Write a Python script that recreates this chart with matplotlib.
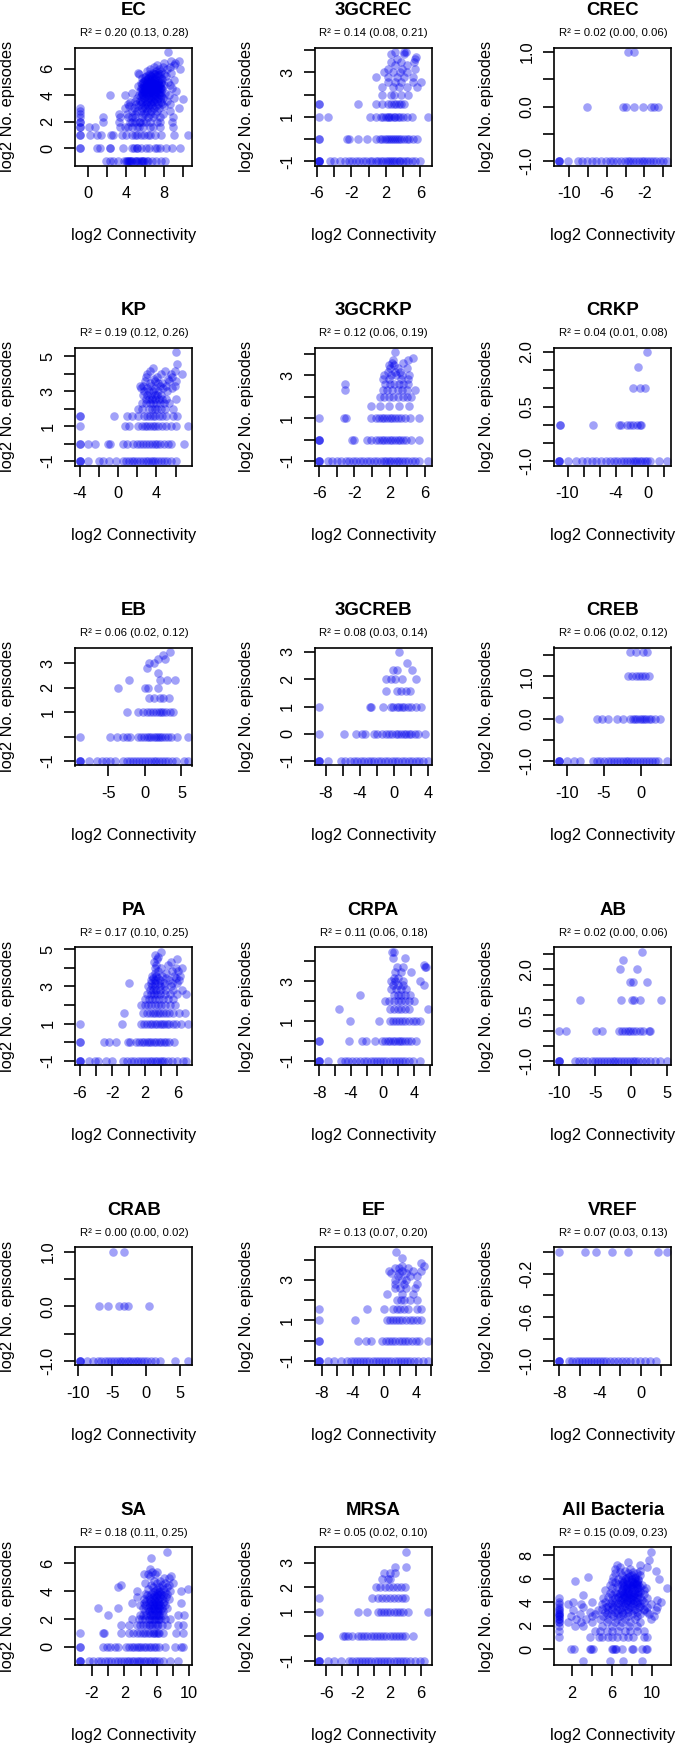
import matplotlib
matplotlib.use('Agg')
import matplotlib.pyplot as plt
import numpy as np

plt.rcParams['font.family'] = ['Liberation Sans', 'DejaVu Sans']

# log2 No. episodes level -> log2 Connectivity values

ec = {
    -1: [1.9, 2.3, 2.6, 3.1, 3.8, 4.0, 4.1, 4.2, 4.3, 4.4, 4.5, 4.6, 4.9, 5.0, 5.1, 5.3, 5.5, 5.6,
         5.8, 5.9, 6.2, 6.3, 6.7, 7.1, 7.6, 8.1],
    0: [-0.9, -0.9, 0.9, 1.2, 2.3, 2.3, 3.7, 4.6, 4.8, 5.1, 5.1, 5.5, 6.1, 6.4, 7.0, 7.2, 7.5, 8.2, 8.8, 9.6],
    1: [-0.9, -0.9, 0.2, 0.9, 1.3, 2.4, 2.6, 3.5, 4.0, 4.6, 4.9, 5.1, 5.5, 5.9, 6.3, 6.5, 7.0, 7.6, 9.0, 10.5],
    1.58: [-0.9, -0.9, 0.1, 0.7, 3.3, 3.9, 4.2, 4.6, 5.1, 5.3, 5.8, 6.5, 6.8, 7.5, 8.9],
    2: [-0.9, -0.9, 1.6, 3.2, 4.4, 4.6, 4.9, 5.3, 5.4, 5.8, 6.1, 6.5, 7.2, 7.5, 8.8],
    2.32: [-0.9, 1.6, 3.3, 4.2, 4.6, 4.9, 5.6, 6.3, 6.8, 7.5, 8.9],
    2.58: [-0.9, 3.2, 4.1, 4.9, 5.8, 6.0, 6.5, 7.0, 7.9],
    2.81: [-0.9, 4.6, 5.1, 5.5, 6.2, 6.6, 7.2, 8.6],
    3: [-0.9, 3.9, 4.8, 5.6, 6.0, 6.4, 6.9, 7.4, 9.5],
    3.17: [4.3, 5.2, 5.9, 6.3, 6.7, 7.1, 8.0],
    3.32: [4.2, 5.0, 5.5, 6.1, 6.6, 7.3, 7.8, 8.6],
    3.46: [4.4, 5.7, 6.2, 6.5, 6.9, 7.6],
    3.58: [4.9, 5.4, 6.0, 6.8, 7.2, 8.3],
    3.70: [5.6, 6.3, 6.6, 7.0, 7.5, 10.0],
    3.81: [5.1, 5.9, 6.4, 6.9, 7.3, 7.9, 9.0],
    3.91: [5.5, 6.1, 6.7, 7.1, 7.6],
    4: [2.3, 3.9, 5.3, 5.8, 6.2, 6.5, 7.0, 7.7, 8.5],
    4.09: [5.6, 6.3, 6.9, 7.4],
    4.17: [4.6, 5.7, 6.0, 6.4, 6.8, 7.2, 8.1],
    4.25: [5.8, 6.5, 7.1, 7.6],
    4.32: [5.4, 5.9, 6.3, 6.6, 7.0, 7.4, 9.2],
    4.39: [6.0, 6.7, 7.2],
    4.46: [5.8, 6.2, 6.5, 6.9, 7.3, 7.8],
    4.52: [5.5, 6.2, 6.9, 7.5],
    4.58: [5.6, 6.0, 6.4, 6.8, 7.1, 7.6, 8.8],
    4.64: [5.9, 6.6, 7.3],
    4.70: [5.2, 6.1, 6.6, 7.0, 7.5],
    4.75: [6.1, 6.8, 7.4],
    4.81: [5.9, 6.3, 6.7, 7.2, 8.0, 8.6],
    4.86: [5.7, 6.5, 7.1],
    4.91: [5.5, 6.4, 6.9, 7.3],
    4.95: [6.2, 6.9, 7.6],
    5: [5.8, 6.2, 6.6, 7.0, 7.7, 8.4],
    5.09: [5.9, 6.6, 7.3],
    5.17: [6.0, 6.5, 6.9, 7.4, 9.0],
    5.25: [6.3, 7.0, 7.8],
    5.32: [5.7, 6.3, 6.8, 7.6],
    5.39: [6.0, 6.7],
    5.46: [6.1, 6.6, 7.1, 8.2],
    5.52: [6.5, 7.3],
    5.58: [5.3, 6.4, 7.0, 7.5, 8.0],
    5.64: [6.9],
    5.70: [5.2, 6.8, 7.3, 8.7],
    5.81: [6.2, 7.1, 7.7],
    6: [6.5, 7.4, 8.3, 9.6],
    6.17: [6.9, 7.9, 8.6],
    6.32: [7.2, 9.0],
    6.46: [8.0, 9.1],
    6.58: [8.7, 9.5],
    7.27: [8.4],
}

gcrec = {
    -1: [-5.75, -5.75, -5.75, -5.75, -4.5, -4.0, -3.3, -2.7, -2.3, -1.9, -1.5, -1.1, -0.7, -0.3, 0.1, 0.4,
         0.8, 1.1, 1.4, 1.7, 2.0, 2.2, 2.5, 2.7, 3.0, 3.2, 3.5, 3.7, 4.0, 4.3, 4.6, 5.0, 5.4, 6.0],
    0: [-5.75, -5.75, -2.5, -2.3, -1.2, -0.2, 0.8, 1.3, 1.6, 1.9, 2.1, 2.4, 2.6, 2.8, 3.1, 3.3, 3.5, 3.8,
        4.1, 4.4, 4.7, 5.2, 5.6],
    1: [-5.75, -4.75, 0.1, 0.8, 1.4, 1.7, 2.0, 2.2, 2.4, 2.6, 2.9, 3.1, 3.4, 3.6, 4.0, 4.4, 5.0, 6.85],
    1.58: [-5.75, -5.75, -1.2, 0.8, 1.5, 2.3, 2.6, 2.9, 3.2, 3.5, 3.8, 4.1],
    2: [1.6, 2.6, 3.0, 3.8, 4.6],
    2.32: [1.6, 2.8, 3.5, 4.5, 5.6],
    2.58: [2.3, 3.1, 3.8, 5.1, 6.1],
    2.81: [0.8, 2.3, 3.3, 4.1, 5.2],
    3: [1.8, 2.8, 3.6, 4.4],
    3.17: [2.3, 3.9, 5.4],
    3.32: [3.1, 4.4],
    3.46: [2.6, 3.8, 5.3],
    3.58: [3.3, 5.4],
    3.70: [5.5],
    3.81: [2.6, 4.1],
    3.91: [3.1, 4.1, 4.3],
}

crec = {
    -1: [-11.1, -11.1, -11.1, -10.1, -9.1, -8.6, -8.1, -7.6, -7.1, -6.6, -6.1, -5.7, -5.3, -4.9, -4.5, -4.1,
         -3.8, -3.5, -3.2, -2.9, -2.6, -2.3, -2.0, -1.7, -1.4, -1.1, -0.8, -0.4, 0.0, 0.4],
    0: [-8.05, -4.3, -4.0, -3.1, -2.2, -1.3, -1.0, -0.6],
    1: [-3.8, -3.1],
}

kp = {
    -1: [-4, -4, -4, -3.1, -2.0, -1.6, -0.9, -0.2, 0.5, 0.8, 1.1, 1.4, 1.7, 2.0, 2.3, 2.6, 2.9, 3.1, 3.4,
         3.6, 3.9, 4.2, 4.5, 4.8, 5.1, 5.5, 6.0],
    0: [-4, -4, -3.1, -2.4, -1.1, -0.8, 0.5, 0.9, 1.6, 2.0, 2.3, 2.6, 2.9, 3.2, 3.5, 3.8, 4.1, 4.4, 4.8,
        5.2, 5.5, 6.9],
    1: [-4, 0.7, 1.1, 2.1, 2.5, 2.8, 3.0, 3.3, 3.6, 3.9, 4.2, 4.6, 5.0, 5.5, 6.0, 7.3],
    1.58: [-4, -4, -0.45, 0.9, 1.4, 2.1, 2.7, 3.0, 3.3, 3.6, 3.9, 4.3, 4.6, 5.0, 5.7, 6.1],
    2: [2.1, 2.5, 3.2, 3.5, 3.8, 4.1, 4.5, 4.9, 5.7],
    2.32: [2.5, 2.9, 3.3, 3.6, 4.0, 4.4, 4.8, 5.3],
    2.58: [2.9, 3.2, 3.5, 3.8, 4.3, 4.6, 5.0, 6.0],
    2.81: [2.6, 3.0, 3.4, 3.8, 4.1, 4.5],
    3: [2.7, 3.2, 3.6, 4.2, 5.1],
    3.17: [2.4, 3.0, 3.9, 4.7, 5.6],
    3.32: [2.3, 2.6, 3.4, 4.4, 5.0, 5.9],
    3.46: [3.3, 4.2, 4.6],
    3.58: [2.8, 3.9, 5.3, 6.0],
    3.70: [3.7, 5.2],
    3.81: [2.9, 4.1, 5.6],
    4: [3.0, 4.5, 5.5, 6.7],
    4.17: [3.3, 4.9, 5.9],
    4.32: [3.6],
    4.58: [6.1],
    5.25: [6.0],
}

gcrkp = {
    -1: [-6, -6, -6, -5.0, -4.5, -4.0, -3.5, -3.0, -2.6, -2.2, -1.8, -1.4, -1.0, -0.6, -0.2, 0.2, 0.6, 1.0,
         1.3, 1.6, 1.9, 2.2, 2.5, 2.8, 3.1, 3.4, 3.7, 4.1, 4.5, 4.9, 5.3, 6.3],
    0: [-6, -6, -6, -2.3, -2.0, -0.6, -0.1, 0.4, 0.8, 1.1, 1.4, 1.7, 2.0, 2.3, 2.6, 2.9, 3.2, 3.5, 3.9, 4.4, 5.3],
    1: [-6, -3.15, -3.0, -0.1, 0.4, 0.8, 1.1, 1.4, 1.7, 2.0, 2.3, 2.6, 2.9, 3.3, 3.7, 4.3, 5.3],
    1.58: [-0.1, 0.9, 1.9, 3.1, 4.2],
    2: [0.9, 1.4, 1.9, 2.4, 2.9, 3.5, 4.0, 4.4],
    2.32: [-3.05, 1.2, 1.7, 2.3, 2.9, 3.4, 4.0, 4.9],
    2.58: [-3.05, 1.5, 2.0, 2.5, 3.0, 3.5, 4.1],
    2.81: [1.2, 1.9, 3.3, 4.1],
    3: [1.4, 2.1, 2.7, 3.4, 4.2],
    3.17: [1.8, 2.6, 3.2],
    3.32: [2.0, 2.9, 4.0],
    3.46: [1.9, 2.5],
    3.58: [2.3, 3.5],
    3.70: [2.4, 4.1],
    3.81: [4.6],
    4.09: [2.6],
}

crkp = {
    -1: [-11.1, -11.1, -11.1, -10.0, -9.0, -8.2, -7.6, -7.0, -6.4, -5.8, -5.2, -4.7, -4.2, -3.8, -3.4, -3.0,
         -2.6, -2.2, -1.9, -1.6, -1.3, -1.0, -0.7, -0.4, -0.1, 0.3, 1.4, 2.4],
    0: [-11.0, -11.0, -6.85, -3.65, -3.4, -2.6, -2.2, -1.8, -1.4, -1.0, -0.8],
    1: [-1.8, -1.0, -0.35],
    1.58: [-1.25],
    2: [-0.1],
}

eb = {
    -1: [-8.9, -8.9, -8.9, -7.7, -6.5, -5.9, -5.3, -4.7, -4.1, -3.0, -2.5, -2.0, -1.6, -1.2, -0.8, -0.4, 0.0,
         0.4, 0.8, 1.2, 1.5, 1.9, 2.3, 2.7, 3.2, 3.7, 4.2, 5.3, 5.9],
    0: [-8.9, -4.7, -3.8, -3.0, -2.4, -2.1, -0.9, -0.5, -0.1, 0.3, 0.6, 0.9, 1.2, 1.5, 1.8, 2.1, 2.4, 2.7,
        3.1, 3.6, 4.4, 5.9],
    1: [-2.4, -0.9, -0.3, 0.3, 0.7, 1.1, 1.5, 1.9, 2.2, 2.5, 2.9, 3.4, 3.9],
    1.58: [0.6, 1.2, 2.1, 2.5, 3.3],
    2: [-3.7, 0.0, 0.4, 1.8],
    2.32: [-2.2, 2.1, 3.0, 4.1],
    2.58: [1.8],
    2.81: [0.3],
    3: [0.6, 1.2],
    3.17: [1.8, 2.7],
    3.32: [2.5],
    3.46: [3.5],
}

gcreb = {
    -1: [-8.74, -8.74, -8.74, -7.7, -6.2, -5.7, -5.2, -4.7, -4.3, -3.9, -3.5, -3.1, -2.7, -2.3, -1.9, -1.5,
         -1.1, -0.7, -0.3, 0.1, 0.5, 0.9, 1.3, 1.7, 2.1, 2.5, 2.9, 3.4, 3.9],
    0: [-8.74, -5.85, -4.45, -3.7, -3.4, -2.4, -2.0, -1.4, -1.0, -0.6, -0.2, 0.2, 0.5, 0.8, 1.1, 1.4, 1.7,
        2.0, 2.4, 2.8, 3.6],
    1: [-8.74, -2.85, -2.7, -1.25, -0.4, -0.1, 0.3, 0.6, 0.9, 1.2, 1.6, 2.0, 2.6, 3.1],
    1.58: [-0.9, 0.35, 0.85, 1.35, 1.9],
    2: [-0.9, -0.4, 0.1, 0.9, 2.5],
    2.32: [-0.15, 0.35, 2.1],
    2.58: [1.5],
    3: [0.6],
}

creb = {
    -1: [-11.1, -11.1, -11.1, -10.05, -9.1, -8.2, -6.5, -6.0, -5.5, -5.0, -4.5, -4.1, -3.7, -3.3, -2.9,
         -2.5, -2.1, -1.7, -1.3, -0.9, -0.5, -0.1, 0.3, 0.7, 1.1, 1.5, 1.9, 2.3, 3.5],
    0: [-11.0, -5.9, -5.3, -4.4, -3.3, -2.4, -1.5, -1.1, -0.8, -0.5, -0.2, 0.1, 0.4, 0.7, 1.0, 1.4, 1.9, 2.6],
    1: [-1.8, -1.2, -0.7, -0.3, 0.1, 0.5, 1.1],
    1.58: [-1.5, -0.65, 0.25, 0.8],
}

pa = {
    -1: [-6, -6, -6, -4.9, -4.1, -3.8, -2.8, -2.0, -0.7, -0.2, 0.3, 0.7, 1.1, 1.5, 1.9, 2.3, 2.6, 2.9, 3.2,
         3.5, 3.8, 4.1, 4.4, 4.8, 5.3, 5.9, 6.7, 7.0],
    0: [-6, -6, -3.0, -2.4, -1.5, -0.1, 0.2, 0.9, 1.3, 1.6, 1.9, 2.2, 2.5, 2.8, 3.1, 3.4, 3.7, 4.0, 4.3,
        4.6, 5.0, 5.6],
    1: [-6, -0.75, 1.5, 1.9, 2.3, 2.6, 2.9, 3.2, 3.5, 3.8, 4.1, 4.4, 4.7, 5.0, 5.4, 5.8, 6.4, 7.3],
    1.58: [-0.55, 1.8, 2.2, 2.6, 3.0, 3.3, 3.6, 3.9, 4.2, 4.6, 5.0, 5.5, 6.2, 6.9],
    2: [1.5, 2.0, 2.4, 2.8, 3.2, 3.6, 4.0, 4.5, 5.1, 5.7],
    2.32: [2.0, 2.5, 2.9, 3.3, 3.7, 4.2, 4.8, 5.4],
    2.58: [2.2, 2.7, 3.1, 3.5, 3.9, 4.5, 5.1, 6.0, 7.0],
    2.81: [2.6, 3.0, 3.4, 3.9, 4.5, 5.5, 6.6],
    3: [2.4, 2.9, 3.3, 3.8, 4.4, 5.2],
    3.17: [0.0, 2.7, 3.2, 3.7, 4.3, 5.3, 6.0],
    3.32: [2.8, 3.3, 3.9, 5.0, 6.2],
    3.46: [3.0, 3.6, 4.6, 5.8],
    3.58: [2.9, 3.4, 4.1, 5.6, 6.3],
    3.70: [3.2, 4.6],
    3.81: [3.6, 5.3, 6.1],
    4: [3.3, 4.0, 5.8, 6.5],
    4.17: [3.4, 4.8],
    4.32: [3.1, 5.2],
    4.46: [3.5, 6.0],
    4.58: [3.6],
    4.70: [3.3],
    4.86: [4.0],
}

crpa = {
    -1: [-8, -8, -8, -6.9, -5.3, -4.8, -4.3, -3.8, -3.3, -2.8, -2.3, -1.9, -1.5, -1.1, -0.7, -0.3, 0.1, 0.5,
         0.9, 1.3, 1.7, 2.1, 2.5, 2.9, 3.4, 3.9, 4.8],
    0: [-8, -8, -4.2, -2.6, -2.1, -0.9, -0.1, 0.3, 0.7, 1.0, 1.3, 1.6, 1.9, 2.2, 2.5, 2.8, 3.2, 3.6, 4.2],
    1: [-4.1, -0.4, 1.0, 1.3, 1.7, 2.1, 2.5, 2.8, 3.3, 3.8, 4.2, 4.8],
    1.58: [-5.5, 1.0, 1.5, 2.0, 2.4, 2.9, 3.4, 5.7],
    2: [0.3, 0.8, 1.4, 1.9, 2.4, 2.9, 3.4, 4.0],
    2.32: [-2.8, 1.4, 1.9, 2.4, 2.9, 3.5],
    2.58: [1.1, 1.7, 2.3, 3.0],
    2.81: [1.3, 2.0, 2.6, 5.3],
    3: [1.1, 1.6, 2.6, 4.7],
    3.17: [1.4, 2.0],
    3.46: [1.6, 2.3, 3.6],
    3.70: [1.8, 2.6, 5.4, 5.5],
    3.81: [5.2],
    4.17: [1.3, 2.9],
    4.46: [1.2, 1.5],
}

ab = {
    -1: [-10.1, -10.1, -10.1, -7.8, -7.3, -6.7, -6.1, -5.5, -5.0, -4.6, -4.2, -3.8, -3.4, -3.0, -2.6, -2.2,
         -1.8, -1.4, -1.0, -0.6, -0.2, 0.2, 0.6, 1.0, 1.5, 2.0, 2.6, 3.3, 4.0, 5.0],
    0: [-10.1, -9.1, -4.85, -4.0, -1.7, -1.3, -0.9, -0.5, -0.1, 0.3, 0.7, 1.2, 1.7, 2.5, 2.6],
    1: [-7.15, -1.4, 0.1, 0.4, 1.2, 4.1],
    1.58: [-0.2, 0.3, 2.25],
    2: [-1.5, 0.85],
    2.32: [-1.2],
    2.58: [1.5],
}

crab = {
    -1: [-9.8, -9.8, -9.8, -8.7, -7.8, -7.1, -6.6, -6.1, -5.6, -5.1, -4.7, -4.3, -3.9, -3.5, -3.1, -2.7,
         -2.3, -1.9, -1.5, -1.1, -0.7, -0.3, 0.2, 0.7, 1.3, 2.1, 4.3, 6.25],
    0: [-7.0, -5.55, -3.95, -3.3, -2.7, 0.5],
    1: [-4.8, -3.2],
}

ef = {
    -1: [-8.3, -8.3, -8.3, -7.2, -6.4, -5.5, -4.7, -4.3, -3.9, -3.5, -3.1, -2.7, -2.3, -1.9, -1.5, -1.1,
         -0.7, -0.3, 0.1, 0.5, 0.9, 1.3, 1.7, 2.1, 2.5, 2.9, 3.3, 3.8, 4.3, 4.9, 5.5],
    0: [-8.3, -8.3, -3.3, -2.3, -1.7, -0.3, 0.2, 0.6, 1.0, 1.4, 1.8, 2.2, 2.6, 3.0, 3.5, 4.0, 4.4, 5.5],
    1: [-8.3, -3.75, 0.3, 0.7, 1.1, 1.5, 1.9, 2.3, 2.7, 3.2, 3.6, 4.1, 4.6],
    1.58: [-8.3, -2.2, 0.0, 1.1, 1.6, 2.0, 2.5, 3.0, 4.2, 4.6],
    2: [1.6, 2.1, 2.5, 3.3, 4.1],
    2.32: [0.3, 2.2, 3.6],
    2.58: [1.4, 2.0, 2.8, 3.9],
    2.81: [1.4, 2.5, 4.1],
    3: [1.4, 2.2, 2.8],
    3.17: [1.7, 3.3, 4.1],
    3.32: [0.8, 1.9, 2.8],
    3.46: [0.55, 2.2, 3.6, 4.7],
    3.58: [1.4, 1.9, 3.0],
    3.70: [2.2, 5.0],
    3.81: [4.7],
    4.09: [2.2],
    4.39: [1.5],
}

vref = {
    -1: [-8.05, -8.05, -8.05, -7.0, -6.7, -6.4, -6.1, -5.8, -5.5, -5.2, -4.9, -4.6, -4.3, -4.0, -3.7, -3.4,
         -3.0, -2.6, -2.2, -1.8, -1.4, -1.0, -0.6, -0.1, 0.4, 0.9, 1.5],
    0: [-8.05, -5.45, -4.35, -2.85, -1.2, 1.7, 2.6],
}

sa = {
    -1: [-3.5, -3.5, -3.5, -2.3, -1.9, -1.3, -0.9, -0.4, 0.0, 0.4, 0.8, 1.2, 1.6, 2.0, 2.3, 2.6, 2.9, 3.2,
         3.5, 3.8, 4.1, 4.4, 4.7, 5.0, 5.3, 5.6, 5.9, 6.3, 6.8, 7.6, 8.6],
    0: [-3.5, -3.5, -0.65, -0.2, 0.2, 0.8, 1.2, 2.2, 2.6, 2.9, 3.2, 3.5, 3.8, 4.1, 4.4, 4.7, 5.0, 5.3, 5.6,
        5.9, 6.3, 7.0, 8.2, 9.0, 9.2],
    1: [-3.5, -0.65, -0.45, 1.6, 2.6, 3.1, 3.5, 3.9, 4.3, 4.6, 4.9, 5.2, 5.5, 5.7, 5.9, 6.1, 6.3, 6.7, 8.4, 9.2],
    1.58: [1.6, 2.6, 3.5, 3.9, 4.3, 4.7, 5.0, 5.2, 5.4, 5.8, 6.0, 6.2, 6.6, 7.2, 8.6, 9.2],
    2: [2.9, 3.8, 4.2, 4.6, 5.0, 5.2, 5.4, 5.7, 5.9, 6.1, 6.3, 6.5, 7.0, 7.6],
    2.32: [0.0, 3.9, 4.3, 4.7, 5.1, 5.3, 5.5, 5.9, 6.1, 6.3, 6.8, 8.6, 9.4],
    2.58: [4.6, 5.0, 5.2, 5.4, 5.8, 6.0, 6.2, 6.4, 6.7],
    2.81: [-1.3, 1.2, 4.3, 4.9, 5.3, 5.5, 5.7, 6.1, 6.3, 6.6, 7.3],
    3: [3.9, 4.6, 5.1, 5.4, 5.6, 6.0, 6.2, 6.4, 7.0],
    3.17: [3.0, 4.4, 5.0, 5.5, 5.9, 6.3, 6.8, 9.0],
    3.32: [4.7, 5.3, 5.8, 6.2, 6.9],
    3.46: [4.4, 5.2, 5.6, 6.1, 6.6, 7.5],
    3.58: [3.6, 5.0, 5.5, 5.9, 6.4, 7.1],
    3.70: [4.8, 5.7, 6.2, 6.8],
    3.81: [4.6, 5.3, 6.0, 6.5, 7.3],
    3.91: [5.5, 6.3, 7.0],
    4: [3.5, 5.8, 6.4, 7.6, 9.0],
    4.17: [4.9, 6.0, 6.8, 9.85],
    4.32: [1.2, 5.5, 6.3, 7.2],
    4.46: [1.6, 5.3, 6.6, 7.5],
    4.58: [4.5, 6.0, 7.0, 8.0],
    4.75: [5.7, 6.4],
    4.91: [6.9, 7.5],
    5.09: [5.1, 7.7],
    5.25: [4.4, 4.9, 5.8],
    5.39: [5.4, 6.0],
    5.58: [5.2],
    6.39: [5.3],
    6.84: [7.2],
}

mrsa = {
    -1: [-6.9, -6.9, -6.9, -5.8, -5.0, -4.2, -3.1, -2.7, -2.3, -1.9, -1.5, -1.1, -0.7, -0.3, 0.1, 0.5, 0.9,
         1.3, 1.7, 2.1, 2.5, 2.9, 3.3, 3.7, 4.1, 4.6, 5.2, 5.8, 6.3],
    0: [-6.9, -6.9, -3.9, -3.6, -3.2, -2.8, -2.0, -1.6, -1.2, -0.8, -0.4, 0.0, 0.4, 0.8, 1.2, 1.6, 2.0, 2.4,
        2.8, 3.2, 3.6, 4.0, 4.9],
    1: [-6.9, -2.0, -0.9, 0.5, 0.9, 1.3, 1.7, 2.1, 2.5, 2.9, 3.3, 3.7, 4.3, 6.8],
    1.58: [-6.9, -0.2, 0.5, 1.0, 1.5, 2.0, 2.5, 3.0, 3.6, 4.0],
    2: [0.3, 0.8, 1.4, 1.9, 2.4, 2.9, 3.5, 4.0],
    2.32: [1.0, 1.8, 2.1],
    2.58: [1.3, 2.1, 2.7],
    2.81: [2.7, 4.05],
    3.46: [4.05],
}

allb = {
    -1: [3.1, 5.8, 7.15, 9.0],
    0: [1.93, 2.27, 3.8, 3.95, 4.1, 6.0, 6.15, 6.3, 6.45, 7.0, 8.0, 8.15, 9.0, 9.35, 9.5],
    1: [0.7, 3.8, 4.7, 5.0, 5.6, 6.0, 6.5, 7.15, 7.65, 8.15, 9.2, 9.5],
    1.58: [0.7, 4.3, 4.8, 5.5, 6.0, 6.6, 7.3, 7.8, 8.5, 9.2],
    2: [0.7, 2.3, 3.1, 5.0, 6.0, 6.8, 7.7, 8.5],
    2.32: [0.7, 0.7, 1.6, 2.95, 4.0, 5.5, 6.3, 7.0, 7.8, 8.8],
    2.58: [0.7, 0.7, 2.45, 3.45, 4.8, 5.6, 6.5, 7.3, 8.3, 9.85],
    2.81: [0.7, 0.7, 1.95, 4.0, 5.15, 6.15, 6.8, 7.65, 8.5, 10.2],
    3: [0.7, 0.7, 2.8, 4.3, 5.5, 5.95, 6.6, 7.15, 8.0, 8.8, 9.7],
    3.17: [0.7, 3.8, 5.3, 6.3, 7.0, 7.65, 8.5, 9.5],
    3.32: [0.7, 2.1, 4.6, 5.6, 6.5, 7.3, 8.15, 9.2, 10.35],
    3.46: [0.7, 5.0, 6.0, 6.8, 7.65, 8.3, 9.2],
    3.58: [0.7, 3.1, 5.45, 6.15, 7.0, 7.8, 8.7, 9.5, 10.5],
    3.70: [5.6, 6.5, 7.3, 8.0, 8.8],
    3.81: [0.7, 1.6, 2.95, 5.0, 6.0, 6.8, 7.65, 8.5, 9.85],
    3.91: [5.8, 6.65, 7.3, 8.15, 8.8],
    4: [0.7, 2.1, 4.0, 5.3, 6.3, 7.15, 7.8, 8.5, 9.2, 10.85],
    4.09: [7.5, 8.3],
    4.17: [6.0, 6.8, 7.5, 8.15, 9.0, 10.5],
    4.25: [7.0, 7.9],
    4.32: [0.7, 5.15, 6.3, 7.15, 7.8, 8.5, 9.5],
    4.46: [5.6, 6.65, 7.3, 8.0, 8.8],
    4.52: [7.2, 8.2],
    4.58: [3.1, 6.0, 6.8, 7.5, 8.15, 8.65],
    4.64: [7.7],
    4.70: [6.5, 7.15, 7.8, 8.5, 9.2],
    4.81: [5.8, 6.8, 7.65, 8.3],
    4.86: [7.5, 8.6],
    4.91: [6.3, 7.3, 8.0, 8.8],
    4.95: [7.0],
    5: [5.3, 7.0, 7.65, 8.3, 9.2],
    5.17: [6.0, 7.15, 7.8, 8.5, 9.35, 11.5],
    5.25: [7.4, 8.0, 8.6],
    5.32: [6.5, 7.5, 8.15, 8.8],
    5.39: [7.2, 7.9],
    5.46: [5.8, 7.0, 7.8, 8.5, 9.0],
    5.52: [7.7, 8.4],
    5.58: [6.65, 7.5, 8.15, 8.65],
    5.64: [7.1, 8.2],
    5.70: [6.3, 7.15, 8.0, 8.5],
    5.81: [2.3, 6.0, 7.5, 8.3],
    5.91: [7.0, 7.9, 8.6],
    6: [6.65, 7.3, 8.0, 8.65, 10.7],
    6.09: [7.4, 8.3],
    6.17: [3.6, 6.15, 7.65, 8.3],
    6.25: [7.8],
    6.32: [7.0, 8.0, 8.8],
    6.46: [6.3, 7.65, 8.5],
    6.58: [6.8, 8.15],
    6.70: [7.3, 8.8, 10.35],
    6.81: [6.3, 7.8],
    7: [6.8, 9.5],
    7.17: [6.5, 8.8],
    7.46: [7.65],
    7.58: [9.7],
    8.32: [9.85],
}

titles = ['EC', '3GCREC', 'CREC', 'KP', '3GCRKP', 'CRKP', 'EB', '3GCREB', 'CREB',
          'PA', 'CRPA', 'AB', 'CRAB', 'EF', 'VREF', 'SA', 'MRSA', 'All Bacteria']
r2_text = ['0.20 (0.13, 0.28)', '0.14 (0.08, 0.21)', '0.02 (0.00, 0.06)',
           '0.19 (0.12, 0.26)', '0.12 (0.06, 0.19)', '0.04 (0.01, 0.08)',
           '0.06 (0.02, 0.12)', '0.08 (0.03, 0.14)', '0.06 (0.02, 0.12)',
           '0.17 (0.10, 0.25)', '0.11 (0.06, 0.18)', '0.02 (0.00, 0.06)',
           '0.00 (0.00, 0.02)', '0.13 (0.07, 0.20)', '0.07 (0.03, 0.13)',
           '0.18 (0.11, 0.25)', '0.05 (0.02, 0.10)', '0.15 (0.09, 0.23)']
data = [ec, gcrec, crec, kp, gcrkp, crkp, eb, gcreb, creb,
        pa, crpa, ab, crab, ef, vref, sa, mrsa, allb]

# axis ticks (all tick marks) and which of them carry a label
x_ticks = [[0, 2, 4, 6, 8, 10], [-6, -4, -2, 0, 2, 4, 6], [-10, -8, -6, -4, -2, 0],
           [-4, -2, 0, 2, 4, 6], [-6, -4, -2, 0, 2, 4, 6], [-10, -8, -6, -4, -2, 0, 2],
           [-5, 0, 5], [-8, -6, -4, -2, 0, 2, 4], [-10, -5, 0],
           [-6, -4, -2, 0, 2, 4, 6], [-8, -6, -4, -2, 0, 2, 4, 6], [-10, -5, 0, 5],
           [-10, -5, 0, 5], [-8, -6, -4, -2, 0, 2, 4, 6], [-8, -6, -4, -2, 0, 2],
           [-2, 0, 2, 4, 6, 8, 10], [-6, -4, -2, 0, 2, 4, 6], [2, 4, 6, 8, 10]]
x_shown = [[0, 4, 8], [-6, -2, 2, 6], [-10, -6, -2],
           [-4, 0, 4], [-6, -2, 2, 6], [-10, -4, 0],
           [-5, 0, 5], [-8, -4, 0, 4], [-10, -5, 0],
           [-6, -2, 2, 6], [-8, -4, 0, 4], [-10, -5, 0, 5],
           [-10, -5, 0, 5], [-8, -4, 0, 4], [-8, -4, 0],
           [-2, 2, 6, 10], [-6, -2, 2, 6], [2, 6, 10]]
y_ticks = [[0, 2, 4, 6], [-1, 0, 1, 2, 3, 4], [-1, -0.5, 0, 0.5, 1],
           [-1, 0, 1, 2, 3, 4, 5], [-1, 0, 1, 2, 3, 4], [-1, -0.5, 0, 0.5, 1, 1.5, 2],
           [-1, 0, 1, 2, 3], [-1, 0, 1, 2, 3], [-1, -0.5, 0, 0.5, 1, 1.5],
           [-1, 0, 1, 2, 3, 4, 5], [-1, 0, 1, 2, 3, 4], [-1, -0.5, 0, 0.5, 1, 1.5, 2, 2.5],
           [-1, -0.5, 0, 0.5, 1], [-1, 0, 1, 2, 3, 4], [-1, -0.8, -0.6, -0.4, -0.2, 0],
           [0, 2, 4, 6], [-1, 0, 1, 2, 3], [0, 2, 4, 6, 8]]
y_shown = [[0, 2, 4, 6], [-1, 1, 3], [-1, 0, 1],
           [-1, 1, 3, 5], [-1, 1, 3], [-1, 0.5, 2],
           [-1, 1, 2, 3], [-1, 0, 1, 2, 3], [-1, 0, 1],
           [-1, 1, 3, 5], [-1, 1, 3], [-1, 0.5, 2],
           [-1, 0, 1], [-1, 1, 3], [-1, -0.6, -0.2],
           [0, 2, 4, 6], [-1, 1, 2, 3], [0, 2, 4, 6, 8]]
y_decimals = [0, 0, 1, 0, 0, 1, 0, 0, 1, 0, 0, 1, 1, 0, 1, 0, 0, 0]


def flat(d):
    xs, ys = [], []
    for lev, xl in d.items():
        xs += xl
        ys += [lev] * len(xl)
    return np.array(xs), np.array(ys)


def rlim(v):
    lo, hi = v.min(), v.max()
    pad = 0.04 * (hi - lo)
    return lo - pad, hi + pad


def labels(ticks, shown, dec):
    out = []
    for t in ticks:
        if any(np.isclose(t, s) for s in shown):
            out.append('%.*f' % (dec, t))
        else:
            out.append('')
    return out


W_PX, H_PX = 676, 1744
BOX_W, BOX_H = 117, 118
col_x = [75.4, 314.9, 554.4]

fig = plt.figure(figsize=(W_PX / 100, H_PX / 100), dpi=100)

for i in range(18):
    r, c = divmod(i, 3)
    top = 47.7 + 299.9 * r
    ax = fig.add_axes([col_x[c] / W_PX, 1 - (top + BOX_H) / H_PX, BOX_W / W_PX, BOX_H / H_PX])
    x, y = flat(data[i])
    ax.scatter(x, y, s=38, color=(0, 0, 0.93, 0.37), linewidths=0)

    ax.set_xticks(x_ticks[i])
    ax.set_xticklabels(labels(x_ticks[i], x_shown[i], 0))
    ax.set_yticks(y_ticks[i])
    ax.set_yticklabels(labels(y_ticks[i], y_shown[i], y_decimals[i]), rotation=90, va='center')
    ax.set_xlim(rlim(x))
    ax.set_ylim(rlim(y))

    ax.tick_params(length=7.9, width=1.2, labelsize=11.8, color='black')
    ax.tick_params(axis='x', pad=7)
    ax.tick_params(axis='y', pad=6.5)
    for sp in ax.spines.values():
        sp.set_linewidth(1.2)

    ax.text(0.5, 1 + 32.7 / BOX_H, titles[i], transform=ax.transAxes, ha='center', va='baseline',
            fontsize=13.4, fontweight='bold')
    ax.text(0.5, 1 + 11.2 / BOX_H, 'R² = ' + r2_text[i], transform=ax.transAxes, ha='center',
            va='baseline', fontsize=8.2)
    ax.text(0.5, -70 / BOX_H, 'log2 Connectivity', transform=ax.transAxes, ha='center',
            va='center', fontsize=11.8)
    ax.text(-68 / BOX_W, 0.5, 'log2 No. episodes', transform=ax.transAxes, ha='center',
            va='center', rotation=90, fontsize=11.8)

fig.savefig('out.png', dpi=100)
